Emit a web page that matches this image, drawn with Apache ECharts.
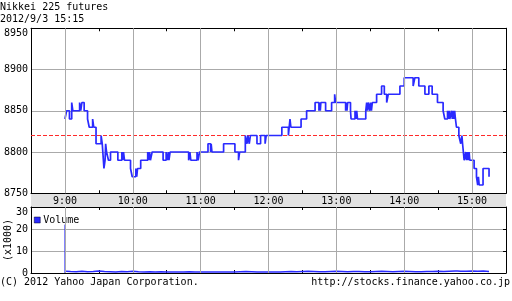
<!DOCTYPE html>
<html><head><meta charset="utf-8">
<script src="https://cdn.jsdelivr.net/npm/echarts@6/dist/echarts.min.js"></script>
<style>html,body{margin:0;padding:0;background:#fff}#c{width:512px;height:301px}</style>
</head><body><div id="c"></div>
<script>
const titleText = 'Nikkei 225 futures';
const dateText = '2012/9/3 15:15';
const footerLeft = '(C) 2012 Yahoo Japan Corporation.';
const footerRight = 'http://stocks.finance.yahoo.co.jp';
const hourTicks = [540, 600, 660, 720, 780, 840, 900];
const prevClose = 8820;

// minutes since midnight, price (step: value holds until next time)
const priceTimes = [540,541.5,544,546,547,553,554,555,557,560,561.5,564.5,565.5,567.5,572,573,574,574.5,575.5,576,576.8,578.5,580.3,586.8,590.3,591,591.8,592.7,598,599.5,602.7,603.5,604.2,607,613.2,614,614.8,615.6,617.1,626.8,629.5,630.5,631.5,632,633,649.4,650.5,651.3,656.8,657.8,659,666.5,668.8,669.3,670,680.3,690.3,693.5,694.5,699.5,701,701.8,703,704,709.8,713,717,718,731.8,737.6,738.3,739,739.8,748.8,753.7,761.2,764.6,765.3,765.8,766.3,770.5,775.8,778.5,779.3,788.2,788.8,789.4,790,792.5,793,796.5,797.3,798,798.7,806,806.8,807.5,808.2,809.5,810.2,811,811.8,815.6,820,822.4,824.5,825.9,836.2,840,847.9,849.4,852.9,858.3,861.8,864.7,869.4,874.4,875.9,878.3,879,879.7,880.3,881.8,882.5,883.2,884,884.6,885.3,886.2,888.3,890,891,891.6,893,894.4,895,896,896.6,897.4,898,901.8,903.9,905,905.6,906.3,909.7,915];
const priceValues = [8840,8850,8840,8860,8850,8860,8850,8860,8850,8840,8830,8840,8830,8810,8820,8810,8790,8780,8790,8810,8800,8790,8800,8790,8800,8790,8800,8790,8780,8770,8780,8770,8780,8790,8800,8790,8800,8790,8800,8790,8800,8790,8800,8790,8800,8790,8800,8790,8800,8790,8800,8810,8800,8810,8800,8810,8800,8790,8800,8820,8810,8820,8810,8820,8810,8820,8810,8820,8830,8820,8830,8840,8830,8840,8850,8860,8850,8860,8850,8860,8850,8860,8870,8860,8850,8860,8850,8860,8850,8840,8850,8840,8850,8840,8850,8860,8850,8860,8850,8860,8850,8860,8870,8880,8870,8860,8870,8880,8890,8880,8890,8880,8870,8880,8870,8860,8850,8840,8850,8840,8850,8840,8850,8840,8850,8840,8850,8840,8830,8820,8810,8820,8810,8790,8800,8790,8800,8790,8800,8790,8780,8770,8760,8770,8760,8780,8770];

// volume (x1000)
const volSpikeTime = 540;
const volSpikeValue = 22;
const volTimes = [541,545,550,555,560,565,570,575,580,585,590,595,600,605,610,615,620,625,630,635,640,645,650,655,660,665,670,675,680,685,690,695,700,705,710,715,720,725,730,735,740,745,750,755,760,765,770,775,780,785,790,795,800,805,810,815,820,825,830,835,840,845,850,855,860,865,870,875,880,885,886,887,890,895,900,905,910,915];
const volValues = [0.8,0.7,0.6,0.8,0.6,0.7,0.9,0.7,0.6,0.5,0.7,0.6,0.8,0.6,0.5,0.6,0.5,0.6,0.5,0.4,0.5,0.5,0.6,0.5,0.5,0.4,0.5,0.5,0.4,0.5,0.5,0.6,0.7,0.6,0.5,0.5,0.4,0.4,0.5,0.6,0.7,0.6,0.7,0.8,0.7,0.6,0.6,0.7,0.8,0.7,0.6,0.7,0.7,0.6,0.6,0.7,0.8,0.7,0.6,0.7,0.8,0.7,0.6,0.6,0.7,0.7,0.8,0.7,0.8,0.9,1.6,0.9,0.8,0.8,0.9,0.8,0.9,0.7];

const FONT = 'DejaVu Sans Mono';
const BLUE = '#2a2aff';
const RED = '#ff2a2a';
const GRIDC = '#aaaaaa';

const pricePts = priceTimes.map((t, i) => [t, priceValues[i]]);
const volPts = volTimes.map((t, i) => [t, volValues[i]]);
const prevPts = [[510, prevClose], [930, prevClose]];

const chart = echarts.init(document.getElementById('c'), null, {renderer: 'canvas'});

function xAx(gridIndex, position, showLabel) {
  return {
    type: 'value', gridIndex, position, min: 510, max: 930, interval: 30,
    axisLine: {show: true, onZero: false, lineStyle: {color: '#000', width: 1}},
    axisTick: {show: true, inside: true, length: 3, lineStyle: {color: '#000'}},
    axisLabel: {show: showLabel, margin: 3, color: '#000', fontFamily: FONT, fontSize: 10, verticalAlign: 'top',
      hideOverlap: false,
      formatter: v => (v % 60 === 0 && v > 510 && v < 930) ? (v / 60) + ':00' : ''},
    splitLine: {show: false}
  };
}

const option = {
  animation: false,
  backgroundColor: '#fff',
  textStyle: {fontFamily: FONT},
  grid: [
    {left: 31, top: 28.25, width: 475, height: 165, show: false, containLabel: false, outerBoundsMode: 'none'},
    {left: 31, top: 207, width: 475, height: 66, show: false, containLabel: false, outerBoundsMode: 'none'}
  ],
  xAxis: [xAx(0, 'bottom', true), xAx(0, 'top', false), xAx(1, 'bottom', false), xAx(1, 'top', false)],
  yAxis: [
    {type: 'value', gridIndex: 0, position: 'left', min: 8750, max: 8950, interval: 50,
      axisLine: {show: true, lineStyle: {color: '#000'}}, axisTick: {show: false},
      axisLabel: {margin: 3, color: '#000', fontFamily: FONT, fontSize: 10, formatter: v => String(v),
        verticalAlignMaxLabel: 'top'},
      splitLine: {show: true, showMinLine: false, showMaxLine: false, lineStyle: {color: GRIDC, width: 1}}},
    {type: 'value', gridIndex: 0, position: 'right', min: 8750, max: 8950, interval: 50,
      axisLine: {show: true, lineStyle: {color: '#000'}}, axisTick: {show: true, inside: true, length: 3, lineStyle: {color: '#000'}},
      axisLabel: {show: false}, splitLine: {show: false}},
    {type: 'value', gridIndex: 1, position: 'left', min: 0, max: 30, interval: 10,
      name: '(x1000)', nameLocation: 'middle', nameRotate: 90, nameGap: 18, nameMoveOverlap: false,
      nameTextStyle: {color: '#000', fontFamily: FONT, fontSize: 10},
      axisLine: {show: true, lineStyle: {color: '#000'}}, axisTick: {show: false},
      axisLabel: {margin: 3, color: '#000', fontFamily: FONT, fontSize: 10, formatter: v => String(v),
        verticalAlignMaxLabel: 'top'},
      splitLine: {show: true, showMinLine: false, showMaxLine: false, lineStyle: {color: GRIDC, width: 1}}},
    {type: 'value', gridIndex: 1, position: 'right', min: 0, max: 30, interval: 10,
      axisLine: {show: true, lineStyle: {color: '#000'}}, axisTick: {show: true, inside: true, length: 3, lineStyle: {color: '#000'}},
      axisLabel: {show: false}, splitLine: {show: false}}
  ],
  legend: {
    data: ['Volume'], left: 34, top: 215, padding: 0, itemWidth: 6, itemHeight: 6, itemGap: 4,
    icon: 'rect', textStyle: {color: '#000', fontFamily: FONT, fontSize: 10, padding: [0, 0, 0, -2]},
    itemStyle: {borderColor: '#000022', borderWidth: 0.5}
  },
  series: [
    {type: 'line', name: 'grid0', xAxisIndex: 0, yAxisIndex: 0, data: [], z: 1, silent: true,
      markLine: {silent: true, symbol: 'none', label: {show: false}, animation: false,
        lineStyle: {color: GRIDC, type: 'solid', width: 1},
        data: hourTicks.map(h => ({xAxis: h}))}},
    {type: 'line', name: 'prev', xAxisIndex: 0, yAxisIndex: 0, data: prevPts,
      z: 2, silent: true, showSymbol: false, symbol: 'none', color: RED,
      itemStyle: {color: RED},
      lineStyle: {color: RED, type: 'dashed', width: 1, opacity: 1}},
    {type: 'line', name: 'price', xAxisIndex: 0, yAxisIndex: 0, data: pricePts, step: 'end',
      showSymbol: false, z: 3, color: BLUE, lineStyle: {color: BLUE, width: 1.7}},
    {type: 'line', name: 'grid1', xAxisIndex: 2, yAxisIndex: 2, data: [], z: 1, silent: true,
      markLine: {silent: true, symbol: 'none', label: {show: false}, animation: false,
        lineStyle: {color: GRIDC, type: 'solid', width: 1},
        data: hourTicks.map(h => ({xAxis: h}))}},
    {type: 'line', name: 'spike', xAxisIndex: 2, yAxisIndex: 2, data: [[volSpikeTime, 0], [volSpikeTime, volSpikeValue]],
      showSymbol: false, z: 3, color: BLUE, lineStyle: {color: BLUE, width: 1}},
    {type: 'line', name: 'Volume', xAxisIndex: 2, yAxisIndex: 2, data: volPts,
      showSymbol: false, z: 3, color: BLUE, lineStyle: {color: BLUE, width: 1.5}, itemStyle: {color: BLUE}}
  ],
  graphic: [
    {type: 'rect', z: -1, shape: {x: 31, y: 193, width: 475, height: 14}, style: {fill: '#e2e2e2'}},
    {type: 'text', left: 0, top: 2, style: {text: titleText, fill: '#000', font: '10px "DejaVu Sans Mono"'}},
    {type: 'text', left: 0, top: 14, style: {text: dateText, fill: '#000', font: '10px "DejaVu Sans Mono"'}},
    {type: 'text', left: 0, top: 277, style: {text: footerLeft, fill: '#000', font: '10px "DejaVu Sans Mono"'}},
    {type: 'text', right: 2, top: 277, style: {text: footerRight, fill: '#000', font: '10px "DejaVu Sans Mono"'}}
  ]
};
chart.setOption(option);
</script></body></html>
